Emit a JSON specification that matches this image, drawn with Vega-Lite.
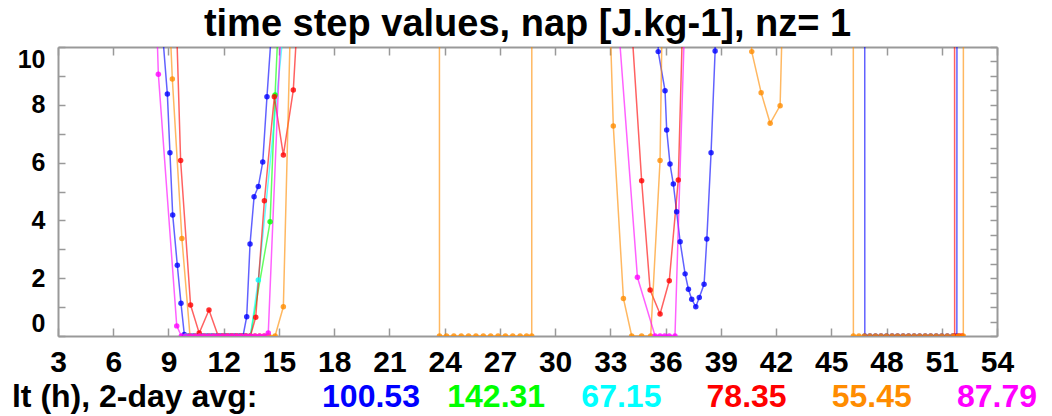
{
 "$schema": "https://vega.github.io/schema/vega-lite/v6.json",
 "width": 939, "height": 289,
 "autosize": "none",
 "padding": {"left": 58, "top": 47, "right": 55, "bottom": 80},
 "background": "white",
 "config": {
  "font": "Liberation Sans",
  "view": {"stroke": null},
  "axis": {"domainColor": "#999", "domainWidth": 2, "tickColor": "#999", "tickWidth": 1.5, "grid": false,
           "labelFont": "Liberation Sans", "labelFontWeight": "bold", "labelFontSize": 25, "labelColor": "#000", "title": null}
 },
 "title": {"text": "time step values, nap [J.kg-1], nz= 1", "fontSize": 38, "fontWeight": "bold", "font": "Liberation Sans", "color": "#000", "offset": 2, "anchor": "middle"},
 "datasets": {
  "ts": [
   {"s":"b","h":8.7,"v":10.3},{"s":"b","h":8.94,"v":8.37},{"s":"b","h":9.08,"v":6.34},{"s":"b","h":9.23,"v":4.19},{"s":"b","h":9.48,"v":2.45},{"s":"b","h":9.68,"v":1.13},{"s":"b","h":9.86,"v":0.05},
   {"s":"b","h":10.1,"v":0},{"s":"b","h":10.35,"v":0},{"s":"b","h":10.6,"v":0},{"s":"b","h":10.85,"v":0},{"s":"b","h":11.1,"v":0},{"s":"b","h":11.35,"v":0},{"s":"b","h":11.6,"v":0},{"s":"b","h":11.85,"v":0},{"s":"b","h":12.1,"v":0},{"s":"b","h":12.35,"v":0},{"s":"b","h":12.6,"v":0},{"s":"b","h":12.85,"v":0},{"s":"b","h":13.05,"v":0},
   {"s":"b","h":13.25,"v":0.67},{"s":"b","h":13.43,"v":3.18},{"s":"b","h":13.65,"v":4.82},{"s":"b","h":13.88,"v":5.17},{"s":"b","h":14.12,"v":6.02},{"s":"b","h":14.35,"v":8.28},{"s":"b","h":14.6,"v":10.6},{"s":"b","h":14.8,"v":200},
   {"s":"b","h":35.5,"v":200},{"s":"b","h":35.6,"v":9.84},{"s":"b","h":35.97,"v":8.49},{"s":"b","h":36.06,"v":7.13},{"s":"b","h":36.24,"v":5.95},{"s":"b","h":36.42,"v":5.26},{"s":"b","h":36.6,"v":4.3},{"s":"b","h":36.79,"v":3.26},{"s":"b","h":37.06,"v":2.15},{"s":"b","h":37.24,"v":1.62},{"s":"b","h":37.42,"v":1.27},{"s":"b","h":37.64,"v":1.01},{"s":"b","h":37.83,"v":1.33},{"s":"b","h":38.09,"v":1.79},{"s":"b","h":38.24,"v":3.36},{"s":"b","h":38.47,"v":6.34},{"s":"b","h":38.69,"v":9.86},{"s":"b","h":38.8,"v":200},
   {"s":"b","h":46.75,"v":200},{"s":"b","h":46.82,"v":0},{"s":"b","h":47.1,"v":0},{"s":"b","h":47.4,"v":0},{"s":"b","h":47.7,"v":0},{"s":"b","h":48.0,"v":0},{"s":"b","h":48.3,"v":0},{"s":"b","h":48.6,"v":0},{"s":"b","h":48.9,"v":0},{"s":"b","h":49.2,"v":0},{"s":"b","h":49.5,"v":0},{"s":"b","h":49.8,"v":0},{"s":"b","h":50.1,"v":0},{"s":"b","h":50.4,"v":0},{"s":"b","h":50.7,"v":0},{"s":"b","h":51.0,"v":0},{"s":"b","h":51.3,"v":0},{"s":"b","h":51.6,"v":0},{"s":"b","h":51.82,"v":0},{"s":"b","h":51.9,"v":200},

   {"s":"g","h":9.95,"v":0},{"s":"g","h":10.2,"v":0},{"s":"g","h":10.45,"v":0},{"s":"g","h":10.7,"v":0},{"s":"g","h":10.95,"v":0},{"s":"g","h":11.2,"v":0},{"s":"g","h":11.45,"v":0},{"s":"g","h":11.7,"v":0},{"s":"g","h":11.95,"v":0},{"s":"g","h":12.2,"v":0},{"s":"g","h":12.45,"v":0},{"s":"g","h":12.7,"v":0},{"s":"g","h":12.95,"v":0},{"s":"g","h":13.2,"v":0},{"s":"g","h":13.45,"v":0},
   {"s":"g","h":14.52,"v":3.95},{"s":"g","h":14.79,"v":8.34},{"s":"g","h":14.95,"v":10.6},{"s":"g","h":15.1,"v":200},

   {"s":"c","h":9.95,"v":0},{"s":"c","h":10.2,"v":0},{"s":"c","h":10.45,"v":0},{"s":"c","h":10.7,"v":0},{"s":"c","h":10.95,"v":0},{"s":"c","h":11.2,"v":0},{"s":"c","h":11.45,"v":0},{"s":"c","h":11.7,"v":0},{"s":"c","h":11.95,"v":0},{"s":"c","h":12.2,"v":0},{"s":"c","h":12.45,"v":0},{"s":"c","h":12.7,"v":0},{"s":"c","h":12.95,"v":0},{"s":"c","h":13.2,"v":0},{"s":"c","h":13.45,"v":0},
   {"s":"c","h":13.88,"v":1.94},{"s":"c","h":15.2,"v":10.3},{"s":"c","h":15.3,"v":200},

   {"s":"r","h":9.3,"v":200},{"s":"r","h":9.45,"v":10.5},{"s":"r","h":9.66,"v":6.07},{"s":"r","h":10.2,"v":1.07},{"s":"r","h":10.67,"v":0.1},{"s":"r","h":11.2,"v":0.9},{"s":"r","h":11.7,"v":0},{"s":"r","h":11.95,"v":0},{"s":"r","h":12.2,"v":0},{"s":"r","h":12.45,"v":0},{"s":"r","h":12.7,"v":0},{"s":"r","h":12.95,"v":0},{"s":"r","h":13.2,"v":0},{"s":"r","h":13.45,"v":0},
   {"s":"r","h":13.74,"v":0.65},{"s":"r","h":14.21,"v":4.68},{"s":"r","h":14.75,"v":8.28},{"s":"r","h":15.24,"v":6.26},{"s":"r","h":15.78,"v":8.51},{"s":"r","h":15.95,"v":10.4},{"s":"r","h":16.1,"v":200},
   {"s":"r","h":34.05,"v":200},{"s":"r","h":34.15,"v":10.8},{"s":"r","h":34.7,"v":5.37},{"s":"r","h":35.16,"v":1.59},{"s":"r","h":35.7,"v":0.76},{"s":"r","h":36.2,"v":1.91},{"s":"r","h":36.69,"v":5.4},{"s":"r","h":36.9,"v":10.3},{"s":"r","h":37.0,"v":200},
   {"s":"r","h":51.62,"v":200},{"s":"r","h":51.7,"v":0},{"s":"r","h":51.95,"v":0},{"s":"r","h":52.1,"v":0},

   {"s":"o","h":9.0,"v":200},{"s":"o","h":9.1,"v":10.5},{"s":"o","h":9.21,"v":8.89},{"s":"o","h":9.73,"v":3.37},{"s":"o","h":10.17,"v":0},{"s":"o","h":10.45,"v":0},{"s":"o","h":10.7,"v":0},{"s":"o","h":10.95,"v":0},{"s":"o","h":11.2,"v":0},{"s":"o","h":11.45,"v":0},{"s":"o","h":11.7,"v":0},{"s":"o","h":11.95,"v":0},{"s":"o","h":12.2,"v":0},{"s":"o","h":12.45,"v":0},{"s":"o","h":12.7,"v":0},{"s":"o","h":12.95,"v":0},{"s":"o","h":13.2,"v":0},{"s":"o","h":13.45,"v":0},{"s":"o","h":13.7,"v":0},{"s":"o","h":13.95,"v":0},{"s":"o","h":14.2,"v":0},{"s":"o","h":14.45,"v":0},{"s":"o","h":14.79,"v":0},
   {"s":"o","h":15.24,"v":1.01},{"s":"o","h":15.6,"v":10.2},{"s":"o","h":15.7,"v":200},
   {"s":"o","h":23.66,"v":200},{"s":"o","h":23.72,"v":0},{"s":"o","h":24.1,"v":0},{"s":"o","h":24.5,"v":0},{"s":"o","h":24.9,"v":0},{"s":"o","h":25.3,"v":0},{"s":"o","h":25.7,"v":0},{"s":"o","h":26.1,"v":0},{"s":"o","h":26.5,"v":0},{"s":"o","h":26.9,"v":0},{"s":"o","h":27.3,"v":0},{"s":"o","h":27.7,"v":0},{"s":"o","h":28.1,"v":0},{"s":"o","h":28.45,"v":0},{"s":"o","h":28.73,"v":0},{"s":"o","h":28.8,"v":200},
   {"s":"o","h":32.9,"v":200},{"s":"o","h":32.98,"v":11},{"s":"o","h":33.16,"v":7.27},{"s":"o","h":33.71,"v":1.3},{"s":"o","h":34.16,"v":0},{"s":"o","h":34.7,"v":0},{"s":"o","h":35.19,"v":0},{"s":"o","h":35.7,"v":6.07},{"s":"o","h":35.85,"v":12.6},{"s":"o","h":36.0,"v":200},
   {"s":"o","h":40.5,"v":200},{"s":"o","h":40.6,"v":11},{"s":"o","h":40.68,"v":9.84},{"s":"o","h":41.19,"v":8.42},{"s":"o","h":41.68,"v":7.36},{"s":"o","h":42.22,"v":7.97},{"s":"o","h":42.35,"v":11.2},{"s":"o","h":42.5,"v":200},
   {"s":"o","h":46.12,"v":200},{"s":"o","h":46.2,"v":0},{"s":"o","h":46.5,"v":0},{"s":"o","h":46.8,"v":0},{"s":"o","h":47.1,"v":0},{"s":"o","h":47.4,"v":0},{"s":"o","h":47.7,"v":0},{"s":"o","h":48.0,"v":0},{"s":"o","h":48.3,"v":0},{"s":"o","h":48.6,"v":0},{"s":"o","h":48.9,"v":0},{"s":"o","h":49.2,"v":0},{"s":"o","h":49.5,"v":0},{"s":"o","h":49.8,"v":0},{"s":"o","h":50.1,"v":0},{"s":"o","h":50.4,"v":0},{"s":"o","h":50.7,"v":0},{"s":"o","h":51.0,"v":0},{"s":"o","h":51.3,"v":0},{"s":"o","h":51.6,"v":0},{"s":"o","h":51.9,"v":0},{"s":"o","h":52.17,"v":0},{"s":"o","h":52.25,"v":200},

   {"s":"m","h":8.3,"v":200},{"s":"m","h":8.38,"v":10.5},{"s":"m","h":8.45,"v":9.06},{"s":"m","h":9.45,"v":0.35},{"s":"m","h":9.7,"v":0},{"s":"m","h":9.95,"v":0},{"s":"m","h":10.2,"v":0},{"s":"m","h":10.45,"v":0},{"s":"m","h":10.7,"v":0},{"s":"m","h":10.95,"v":0},{"s":"m","h":11.2,"v":0},{"s":"m","h":11.45,"v":0},{"s":"m","h":11.7,"v":0},{"s":"m","h":11.95,"v":0},{"s":"m","h":12.2,"v":0},{"s":"m","h":12.45,"v":0},{"s":"m","h":12.7,"v":0},{"s":"m","h":12.95,"v":0},{"s":"m","h":13.2,"v":0},{"s":"m","h":13.45,"v":0},{"s":"m","h":13.7,"v":0},{"s":"m","h":13.95,"v":0},{"s":"m","h":14.2,"v":0},
   {"s":"m","h":14.42,"v":0.1},{"s":"m","h":15.12,"v":10.9},{"s":"m","h":15.3,"v":200},
   {"s":"m","h":33.35,"v":200},{"s":"m","h":33.45,"v":10.7},{"s":"m","h":34.47,"v":2.03},{"s":"m","h":35.43,"v":0},{"s":"m","h":35.7,"v":0},{"s":"m","h":35.95,"v":0},{"s":"m","h":36.2,"v":0},{"s":"m","h":36.51,"v":0},{"s":"m","h":37.05,"v":11.2},{"s":"m","h":37.2,"v":200}
  ],
  "avg": [
   {"t":"100.53","s":"b"},{"t":"142.31","s":"g"},{"t":"67.15","s":"c"},{"t":"78.35","s":"r"},{"t":"55.45","s":"o"},{"t":"87.79","s":"m"}
  ]
 },
 "layer": [
  {
   "data": {"name": "ts"},
   "mark": {"type": "line", "clip": true, "strokeWidth": 1.5, "opacity": 0.62},
   "encoding": {
    "x": {"field": "h", "type": "quantitative", "scale": {"domain": [3, 54], "nice": false, "zero": false},
          "axis": {"orient": "bottom", "values": [3,6,9,12,15,18,21,24,27,30,33,36,39,42,45,48,51,54], "tickSize": -8, "labelPadding": 19, "labelFontSize": 30, "labelFlush": false, "labelOverlap": false, "labelBound": false}},
    "y": {"field": "v", "type": "quantitative", "scale": {"domain": [0, 10], "nice": false, "zero": false},
          "axis": {"orient": "left", "values": [0,0.5,1,1.5,2,2.5,3,3.5,4,4.5,5,5.5,6,6.5,7,7.5,8,8.5,9,9.5,10], "format": "d", "labelExpr": "datum.value % 2 == 0 ? datum.label : ''", "tickSize": -7, "labelPadding": 20, "labelFlush": true, "labelOverlap": false}},
    "color": {"field": "s", "type": "nominal", "scale": {"domain": ["b","g","c","r","o","m"], "range": ["#0000ff","#00ff00","#00ffff","#ff0000","#ff8c00","#ff00ff"]}, "legend": null}
   }
  },
  {
   "data": {"name": "ts"},
   "mark": {"type": "point", "filled": true, "clip": true, "size": 30, "opacity": 0.8, "shape": "circle"},
   "encoding": {
    "x": {"field": "h", "type": "quantitative", "scale": {"domain": [3, 54], "nice": false, "zero": false},
          "axis": {"orient": "top", "labels": false, "values": [3,6,9,12,15,18,21,24,27,30,33,36,39,42,45,48,51,54], "tickSize": -8}},
    "y": {"field": "v", "type": "quantitative", "scale": {"domain": [0, 10], "nice": false, "zero": false},
          "axis": {"orient": "right", "labels": false, "values": [0,0.5,1,1.5,2,2.5,3,3.5,4,4.5,5,5.5,6,6.5,7,7.5,8,8.5,9,9.5,10], "tickSize": -7}},
    "color": {"field": "s", "type": "nominal", "legend": null}
   }
  },
  {
   "data": {"name": "avg"},
   "mark": {"type": "text", "fontSize": 32, "fontWeight": "bold", "baseline": "middle", "align": "center", "font": "Liberation Sans"},
   "encoding": {
    "x": {"field": "t", "type": "nominal", "sort": null, "scale": {"type": "point", "domain": [" ","100.53","142.31","67.15","78.35","55.45","87.79"], "padding": 0.75, "align": 1}, "axis": null},
    "y": {"datum": -2.12, "type": "quantitative", "scale": {"domain": [0, 10], "nice": false, "zero": false}, "axis": null},
    "text": {"field": "t"},
    "color": {"field": "s", "type": "nominal", "legend": null}
   }
  },
  {
   "data": {"values": [{"t": "lt (h), 2-day avg:"}]},
   "mark": {"type": "text", "fontSize": 32, "fontWeight": "bold", "baseline": "middle", "align": "left", "font": "Liberation Sans", "color": "#000"},
   "encoding": {
    "x": {"datum": 0.5, "type": "quantitative", "scale": {"domain": [3, 54], "nice": false, "zero": false}, "axis": null},
    "y": {"datum": -2.12, "type": "quantitative", "scale": {"domain": [0, 10], "nice": false, "zero": false}, "axis": null},
    "text": {"field": "t"}
   }
  }
 ],
 "resolve": {"scale": {"x": "independent"}, "axis": {"x": "independent", "y": "independent"}}
}
